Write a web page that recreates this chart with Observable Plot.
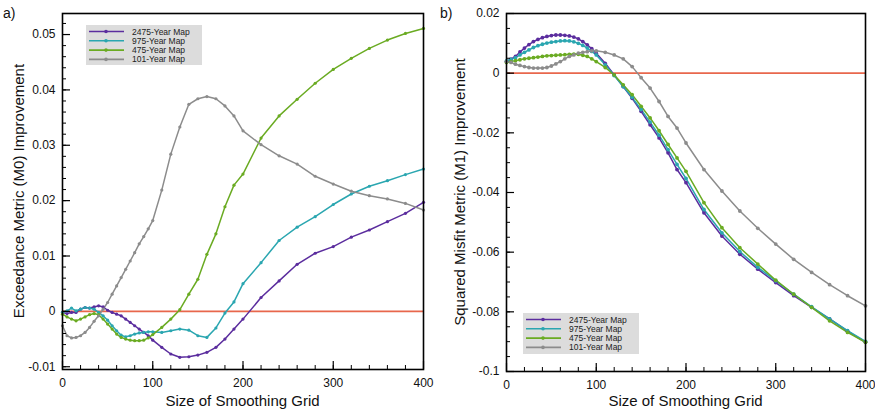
<!DOCTYPE html>
<html><head><meta charset="utf-8">
<script src="https://cdn.jsdelivr.net/npm/d3@7"></script>
<script src="https://cdn.jsdelivr.net/npm/@observablehq/plot@0.6"></script>
<style>
body{margin:0;background:#fff;}
#wrap{display:flex;width:875px;height:414px;overflow:hidden;}
svg{overflow:visible;}
</style></head><body><div id="wrap"></div>
<script>
const gridSize = [0,5,10,15,20,25,30,35,40,45,50,55,60,65,70,75,80,85,90,95,100,
  110,120,130,140,150,160,170,180,190,200,
  220,240,260,280,300,320,340,360,380,400];
const seriesNames = ["2475-Year Map","975-Year Map","475-Year Map","101-Year Map"];
const seriesColors = ["#5b2d9e","#2aa6b0","#6aab22","#8c8c8c"];

// Panel a) Exceedance Metric (M0) Improvement
const m0_2475 = [-0.0002,-0.0004,-0.0002,-0.0002,0.0004,0.0007,0.0006,0.0008,0.0010,0.0008,0.0002,-0.0002,-0.0005,-0.0008,-0.0014,-0.0020,-0.0026,-0.0032,-0.0038,-0.0044,-0.0052,
  -0.0065,-0.0077,-0.0083,-0.0082,-0.0079,-0.0074,-0.0065,-0.0050,-0.0032,-0.0014,
  0.0025,0.0055,0.0085,0.0105,0.0117,0.0134,0.0147,0.0162,0.0177,0.0197];
const m0_975 = [-0.0002,0.0001,0.0006,0.0001,0.0004,0.0007,0.0006,0.0004,-0.0002,-0.0008,-0.0016,-0.0026,-0.0035,-0.0043,-0.0046,-0.0044,-0.0041,-0.0039,-0.0038,-0.0037,-0.0037,
  -0.0038,-0.0035,-0.0032,-0.0034,-0.0044,-0.0047,-0.0030,-0.0003,0.0017,0.0050,
  0.0088,0.0128,0.0152,0.0171,0.0193,0.0212,0.0226,0.0236,0.0247,0.0257];
const m0_475 = [-0.0005,-0.0010,-0.0014,-0.0017,-0.0014,-0.0010,-0.0006,-0.0004,-0.0006,-0.0014,-0.0023,-0.0032,-0.0041,-0.0047,-0.0050,-0.0052,-0.0053,-0.0053,-0.0052,-0.0048,-0.0042,
  -0.0029,-0.0014,0.0003,0.0031,0.0058,0.0103,0.0140,0.0189,0.0228,0.0248,
  0.0313,0.0353,0.0383,0.0412,0.0437,0.0457,0.0475,0.0490,0.0502,0.0511];
const m0_101 = [-0.0026,-0.0044,-0.0048,-0.0047,-0.0044,-0.0038,-0.0029,-0.0018,-0.0008,0.0004,0.0016,0.0031,0.0046,0.0061,0.0076,0.0091,0.0106,0.0122,0.0135,0.0149,0.0164,
  0.0219,0.0284,0.0333,0.0374,0.0384,0.0388,0.0384,0.0371,0.0353,0.0326,
  0.0301,0.0281,0.0266,0.0244,0.0230,0.0217,0.0209,0.0203,0.0195,0.0183];

// Panel b) Squared Misfit Metric (M1) Improvement
const m1_2475 = [0.0039,0.0047,0.0056,0.0071,0.0084,0.0096,0.0106,0.0113,0.0119,0.0123,0.0126,0.0128,0.0128,0.0127,0.0125,0.0121,0.0115,0.0106,0.0095,0.0082,0.0067,
  0.0033,-0.0006,-0.0045,-0.0084,-0.0128,-0.0173,-0.0217,-0.0267,-0.0323,-0.0367,
  -0.0468,-0.0546,-0.0607,-0.0657,-0.0702,-0.0746,-0.0785,-0.0824,-0.0865,-0.0902];
const m1_975 = [0.0041,0.0046,0.0052,0.0061,0.0070,0.0078,0.0086,0.0092,0.0097,0.0101,0.0104,0.0106,0.0108,0.0109,0.0108,0.0105,0.0100,0.0093,0.0084,0.0073,0.0061,
  0.0028,-0.0008,-0.0045,-0.0081,-0.0122,-0.0164,-0.0208,-0.0256,-0.0306,-0.0353,
  -0.0457,-0.0535,-0.0598,-0.0651,-0.0696,-0.0741,-0.0783,-0.0824,-0.0863,-0.0899];
const m1_475 = [0.0036,0.0039,0.0042,0.0045,0.0048,0.0050,0.0052,0.0054,0.0056,0.0058,0.0059,0.0060,0.0061,0.0062,0.0063,0.0064,0.0063,0.0060,0.0056,0.0048,0.0039,
  0.0019,-0.0006,-0.0039,-0.0072,-0.0111,-0.0150,-0.0193,-0.0239,-0.0284,-0.0329,
  -0.0434,-0.0518,-0.0585,-0.0640,-0.0694,-0.0741,-0.0785,-0.0830,-0.0869,-0.0902];
const m1_101 = [0.0039,0.0036,0.0030,0.0026,0.0022,0.0019,0.0017,0.0017,0.0017,0.0019,0.0024,0.0031,0.0039,0.0048,0.0056,0.0061,0.0067,0.0070,0.0072,0.0075,0.0075,
  0.0070,0.0061,0.0048,0.0022,-0.0015,-0.0050,-0.0095,-0.0145,-0.0184,-0.0234,
  -0.0323,-0.0395,-0.0462,-0.0520,-0.0573,-0.0624,-0.0668,-0.0709,-0.0746,-0.0780];

const xMajorTicks = [0,100,200,300,400];
const xMinorTicks = d3.range(0,401,20);
const yMajorA = [-0.01,0,0.01,0.02,0.03,0.04,0.05];
const yMinorA = d3.range(-10,54,2).map(v=>v/1000);
const yMajorB = [-0.1,-0.08,-0.06,-0.04,-0.02,0,0.02];
const yMinorB = d3.range(-100,21,5).map(v=>v/1000);

function longForm(arrays){
  const out = [];
  arrays.forEach((arr,si)=>arr.forEach((v,i)=>out.push({x:gridSize[i], y:v, s:seriesNames[si]})));
  return out;
}
const fmt = d => d===0 ? "0" : String(+d.toFixed(3)).replace("\u2212","-");

function panel(o){
  const pw = o.width - o.ml - o.mr, ph = o.height - o.mt - o.mb;
  const data = longForm(o.arrays);
  const svg = Plot.plot({
    width:o.width, height:o.height,
    marginLeft:o.ml, marginRight:o.mr, marginTop:o.mt, marginBottom:o.mb,
    style:{fontFamily:"Liberation Sans, Arial, sans-serif", fontSize:"12px", color:"#111", background:"transparent"},
    x:{domain:[0,400]},
    y:{domain:o.yDomain},
    color:{domain:seriesNames, range:seriesColors},
    marks:[
      Plot.ruleY([0],{stroke:"#e8674c", strokeWidth:1.6}),
      Plot.line(data,{x:"x", y:"y", stroke:"s", strokeWidth:1.5, curve:"linear"}),
      Plot.dot(data,{x:"x", y:"y", fill:"s", r:o.r, stroke:"none"}),
      Plot.tickX(xMinorTicks,{x:d=>d, insetTop:ph-4, stroke:"#000", strokeWidth:1}),
      Plot.tickX(xMajorTicks,{x:d=>d, insetTop:ph-8, stroke:"#000", strokeWidth:1.2}),
      Plot.tickY(o.yMinor,{y:d=>d, insetRight:pw-4, stroke:"#000", strokeWidth:1}),
      Plot.tickY(o.yMajor,{y:d=>d, insetRight:pw-8, stroke:"#000", strokeWidth:1.2}),
      Plot.axisX(xMajorTicks,{tickSize:0, tickPadding:9, label:null, fontSize:12}),
      Plot.axisY(o.yMajor,{tickSize:0, tickPadding:7, label:null, tickFormat:fmt, fontSize:12}),
      Plot.frame({stroke:"#000", strokeWidth:1.6})
    ]
  });
  const s = d3.select(svg);
  s.append("text").attr("x", o.ml + pw/2).attr("y", o.height - 8)
    .attr("text-anchor","middle").attr("font-size",15).attr("fill","#111").text("Size of Smoothing Grid");
  s.append("text").attr("transform",`translate(${o.ylx},${o.mt + ph/2}) rotate(-90)`)
    .attr("text-anchor","middle").attr("dominant-baseline","central").attr("font-size",15).attr("fill","#111").text(o.yLabel);
  s.append("text").attr("x",o.tagX).attr("y",18).attr("text-anchor","start").attr("font-size",14).attr("fill","#111").text(o.tag);
  // legend
  const L = o.legend;
  const g = s.append("g").attr("text-anchor","start");
  g.append("rect").attr("x",L.x).attr("y",L.y).attr("width",L.w).attr("height",L.h).attr("fill","#dcdcdc");
  seriesNames.forEach((name,i)=>{
    const yy = L.y + 6.5 + i*9.3;
    g.append("line").attr("x1",L.x+3).attr("x2",L.x+38).attr("y1",yy).attr("y2",yy)
      .attr("stroke",seriesColors[i]).attr("stroke-width",1.6);
    g.append("circle").attr("cx",L.x+20).attr("cy",yy).attr("r",1.8).attr("fill",seriesColors[i]);
    g.append("text").attr("x",L.x+46).attr("y",yy).attr("dominant-baseline","central")
      .attr("text-anchor","start").attr("font-size",8.5).attr("fill","#222").text(name);
  });
  return svg;
}

const wrap = document.getElementById("wrap");
wrap.appendChild(panel({
  width:437, height:414, ml:62, mr:14, mt:13, mb:45,
  yDomain:[-0.0105,0.0538], yMajor:yMajorA, yMinor:yMinorA,
  arrays:[m0_2475,m0_975,m0_475,m0_101], r:1.6,
  yLabel:"Exceedance Metric (M0) Improvement", ylx:18, tag:"a)", tagX:3,
  legend:{x:86, y:25, w:116, h:40}
}));
wrap.appendChild(panel({
  width:438, height:414, ml:69, mr:10, mt:13, mb:43,
  yDomain:[-0.1,0.02], yMajor:yMajorB, yMinor:yMinorB,
  arrays:[m1_2475,m1_975,m1_475,m1_101], r:1.9,
  yLabel:"Squared Misfit Metric (M1) Improvement", ylx:22, tag:"b)", tagX:3,
  legend:{x:86, y:313, w:116, h:41}
}));
</script>
</body></html>
